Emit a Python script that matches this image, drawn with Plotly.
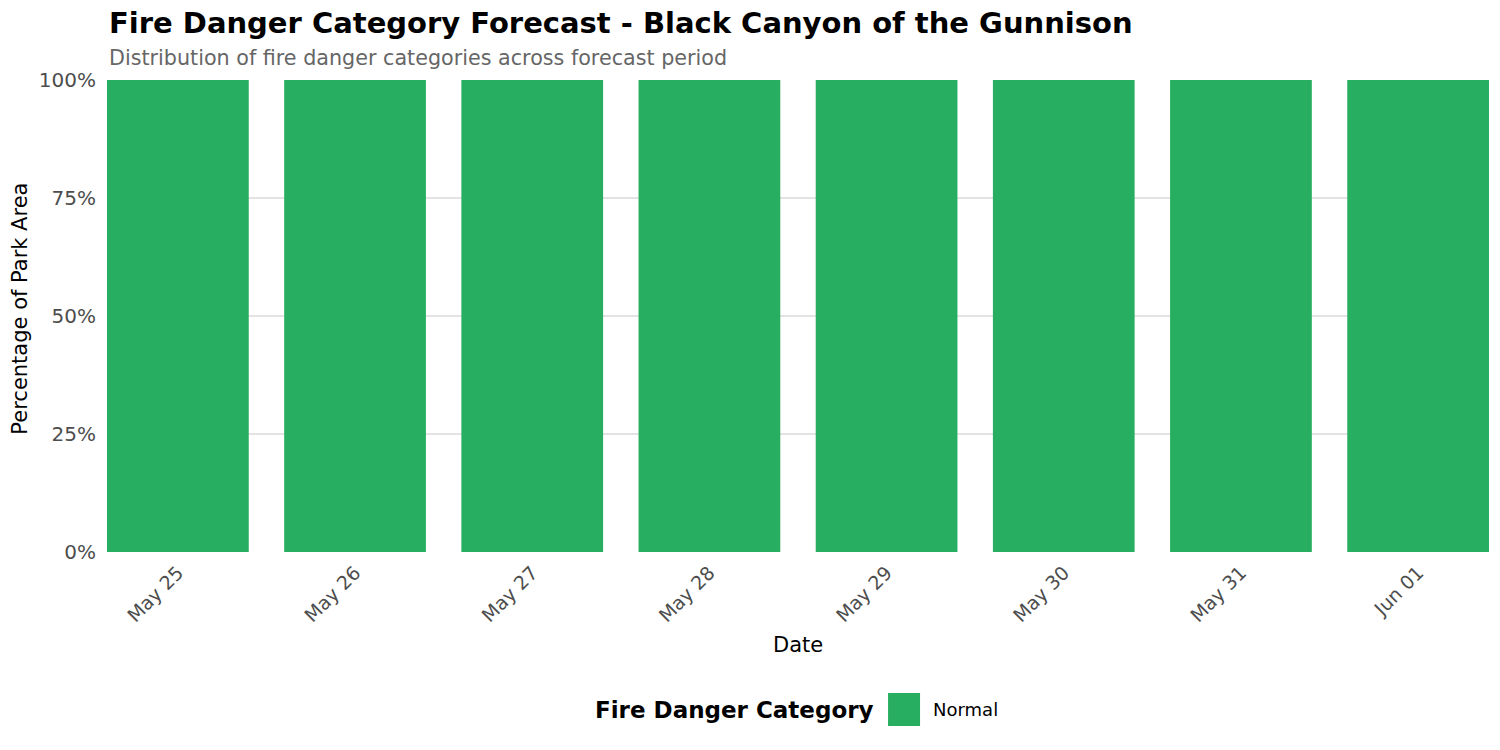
import plotly.graph_objects as go

dates = ["May 25", "May 26", "May 27", "May 28", "May 29", "May 30", "May 31", "Jun 01"]
normal_share = [1.0, 1.0, 1.0, 1.0, 1.0, 1.0, 1.0, 1.0]
category = "Normal"
category_color = "#27AE60"
y_ticks = [0, 0.25, 0.5, 0.75, 1.0]
y_tick_labels = ["0%", "25%", "50%", "75%", "100%"]

FONT = "DejaVu Sans"
OFF = 0  # body margin removed via post_script

fig = go.Figure()
fig.add_trace(go.Bar(
    x=dates, y=normal_share, name=category,
    marker=dict(color=category_color, line=dict(width=0)),
    width=0.8, showlegend=False,
))

W, H = 1500, 750
L, T = 107.3, 80
R = W - 1488.7
B = H - 552
pw, ph = W - L - R, H - T - B

def px_x(p):  # page pixel -> paper
    return (p - OFF - L) / pw

def px_y(p):
    return (H - B - (p - OFF)) / ph

fig.update_layout(
    width=W, height=H,
    margin=dict(l=L, r=R, t=T, b=B, autoexpand=False),
    plot_bgcolor="white", paper_bgcolor="white",
    font=dict(family=FONT, color="#4D4D4D"),
    xaxis=dict(
        type="category", range=[-0.4, 7.4], tickangle=-45,
        tickfont=dict(size=19, color="#4D4D4D"), showgrid=False,
        ticks="", showline=False, zeroline=False, ticklabelstandoff=5,
    ),
    yaxis=dict(
        range=[0, 1], tickvals=y_ticks, ticktext=y_tick_labels,
        tickfont=dict(size=20, color="#4D4D4D"), showgrid=True,
        gridcolor="#E3E3E3", gridwidth=1.5, zeroline=False, ticks="",
        showline=False, ticklabelstandoff=10,
    ),
    annotations=[
        dict(text="<b>Fire Danger Category Forecast - Black Canyon of the Gunnison</b>",
             x=px_x(107), y=px_y(42), xref="paper", yref="paper",
             xanchor="left", yanchor="bottom", showarrow=False,
             font=dict(size=29, color="black", family=FONT)),
        dict(text="Distribution of fire danger categories across forecast period",
             x=px_x(107), y=px_y(72), xref="paper", yref="paper",
             xanchor="left", yanchor="bottom", showarrow=False,
             font=dict(size=20.7, color="#666666", family=FONT)),
        dict(text="Date",
             x=px_x(798), y=px_y(645), xref="paper", yref="paper",
             xanchor="center", yanchor="middle", showarrow=False,
             font=dict(size=21, color="black", family=FONT)),
        dict(text="Percentage of Park Area", textangle=-90,
             x=px_x(20), y=px_y(309), xref="paper", yref="paper",
             xanchor="center", yanchor="middle", showarrow=False,
             font=dict(size=21, color="black", family=FONT)),
        dict(text="<b>Fire Danger Category</b>",
             x=px_x(876), y=px_y(709.5), xref="paper", yref="paper",
             xanchor="right", yanchor="middle", showarrow=False,
             font=dict(size=23, color="black", family=FONT)),
        dict(text=category,
             x=px_x(931), y=px_y(709.5), xref="paper", yref="paper",
             xanchor="left", yanchor="middle", showarrow=False,
             font=dict(size=18, color="black", family=FONT)),
    ],
    shapes=[
        dict(type="rect", xref="paper", yref="paper",
             x0=px_x(888), x1=px_x(920), y0=px_y(726), y1=px_y(693),
             fillcolor=category_color, line=dict(width=0)),
    ],
)

fig.write_html(
    "out.html",
    config={"displayModeBar": False},
    post_script="document.body.style.margin='0';document.body.style.overflow='hidden';",
)
